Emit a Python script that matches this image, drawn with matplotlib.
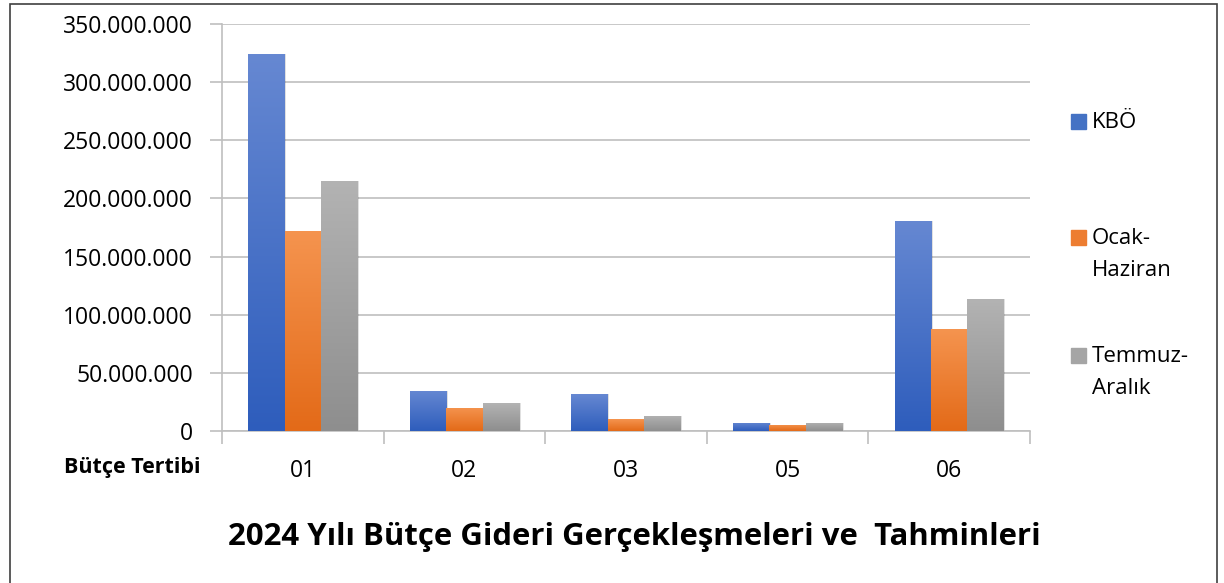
import matplotlib
matplotlib.use("Agg")
import matplotlib.pyplot as plt
import numpy as np
from matplotlib.patches import Rectangle
from matplotlib.colors import LinearSegmentedColormap
from matplotlib.ticker import FuncFormatter

categories = ["01", "02", "03", "05", "06"]
series_names = ["KBÖ", "Ocak-\nHaziran", "Temmuz-\nAralık"]
kbo = [324e6, 34.4e6, 31.8e6, 6.9e6, 180.6e6]
ocak_haziran = [172e6, 19.8e6, 10.3e6, 5.2e6, 87.7e6]
temmuz_aralik = [215e6, 24e6, 12.9e6, 6.9e6, 113.5e6]
y_ticks = [0, 50e6, 100e6, 150e6, 200e6, 250e6, 300e6, 350e6]
title = "2024 Yılı Bütçe Gideri Gerçekleşmeleri ve  Tahminleri"
xlabel = "Bütçe Tertibi"

grads = [("#6688D2", "#2E5DBC", "#4472C4"),
         ("#F5944F", "#E36A18", "#ED7D31"),
         ("#B3B3B3", "#8E8E8E", "#A5A5A5")]

plt.rcParams['font.family'] = ['Open Sans', 'DejaVu Sans']

fig = plt.figure(figsize=(12.24, 5.83), dpi=100)
W, H = 1224, 583
ax = fig.add_axes([222 / W, 1 - 431 / H, (1030 - 222) / W, (431 - 24) / H])

# outer border
fig.patches.append(Rectangle((10 / W, -0.05), (1217 - 10) / W, 1.05 - 4 / H,
                             transform=fig.transFigure, fill=False,
                             edgecolor="#404040", linewidth=1.2))

x = np.arange(len(categories))
bw = 0.225
series = [kbo, ocak_haziran, temmuz_aralik]
for i, (vals, (top, bot, mid)) in enumerate(zip(series, grads)):
    bars = ax.bar(x + (i - 1) * bw, vals, width=bw, color=mid, zorder=3,
                  label=series_names[i], linewidth=0)
    cmap = LinearSegmentedColormap.from_list("g", [bot, top])
    grad = np.linspace(0, 1, 256).reshape(-1, 1)
    for b in bars:
        bx, by = b.get_x(), b.get_y()
        bwid, bh = b.get_width(), b.get_height()
        # shadow
        ax.add_patch(Rectangle((bx + 0.01, by), bwid, bh, color="#000000",
                               alpha=0.12, zorder=2, linewidth=0))
        im = ax.imshow(grad, cmap=cmap, aspect="auto", origin="lower",
                       extent=(bx, bx + bwid, by, by + bh), zorder=4)
        im.set_clip_path(b)
        b.set_facecolor("none")

ax.set_xlim(-0.5, len(categories) - 0.5)
ax.set_ylim(0, 350e6)
ax.set_yticks(y_ticks)
ax.yaxis.set_major_formatter(FuncFormatter(lambda v, p: f"{int(v):,}".replace(",", ".")))
ax.grid(axis="y", color="#BFBFBF", linewidth=1.2, zorder=0)
for s in ["top", "right"]:
    ax.spines[s].set_visible(False)
ax.spines["left"].set_color("#BFBFBF")
ax.spines["bottom"].set_color("#BFBFBF")
ax.spines["left"].set_linewidth(1.2)
ax.spines["bottom"].set_linewidth(1.2)
ax.set_xticks(x)
ax.set_xticklabels(categories)
ax.set_xticks(np.arange(-0.5, len(categories)), minor=True)
ax.tick_params(axis="x", which="major", length=0, pad=20, labelsize=16.5)
ax.tick_params(axis="x", which="minor", length=9, color="#BFBFBF", width=1.2)
ax.tick_params(axis="y", length=9, color="#BFBFBF", width=1.2, labelsize=16.5, pad=12)

fig.text(200 / W, 1 - 467 / H, xlabel, ha="right", va="center",
         fontsize=15.5, fontweight="bold")
fig.text(634 / W, 1 - 537 / H, title, ha="center", va="center",
         fontsize=22.4, fontweight="bold")

# legend
leg_items = [(122, ["KBÖ"]), (238, ["Ocak-", "Haziran"]), (356, ["Temmuz-", "Aralık"])]
for (yy, lines), (top, bot, mid) in zip(leg_items, grads):
    fig.patches.append(Rectangle((1071 / W, 1 - (yy + 7) / H), 15 / W, 15 / H,
                                 transform=fig.transFigure, color=mid))
    for k, ln in enumerate(lines):
        fig.text(1092 / W, 1 - (yy + 32 * k) / H, ln, ha="left", va="center",
                 fontsize=16)

fig.savefig("out.png", dpi=100)
